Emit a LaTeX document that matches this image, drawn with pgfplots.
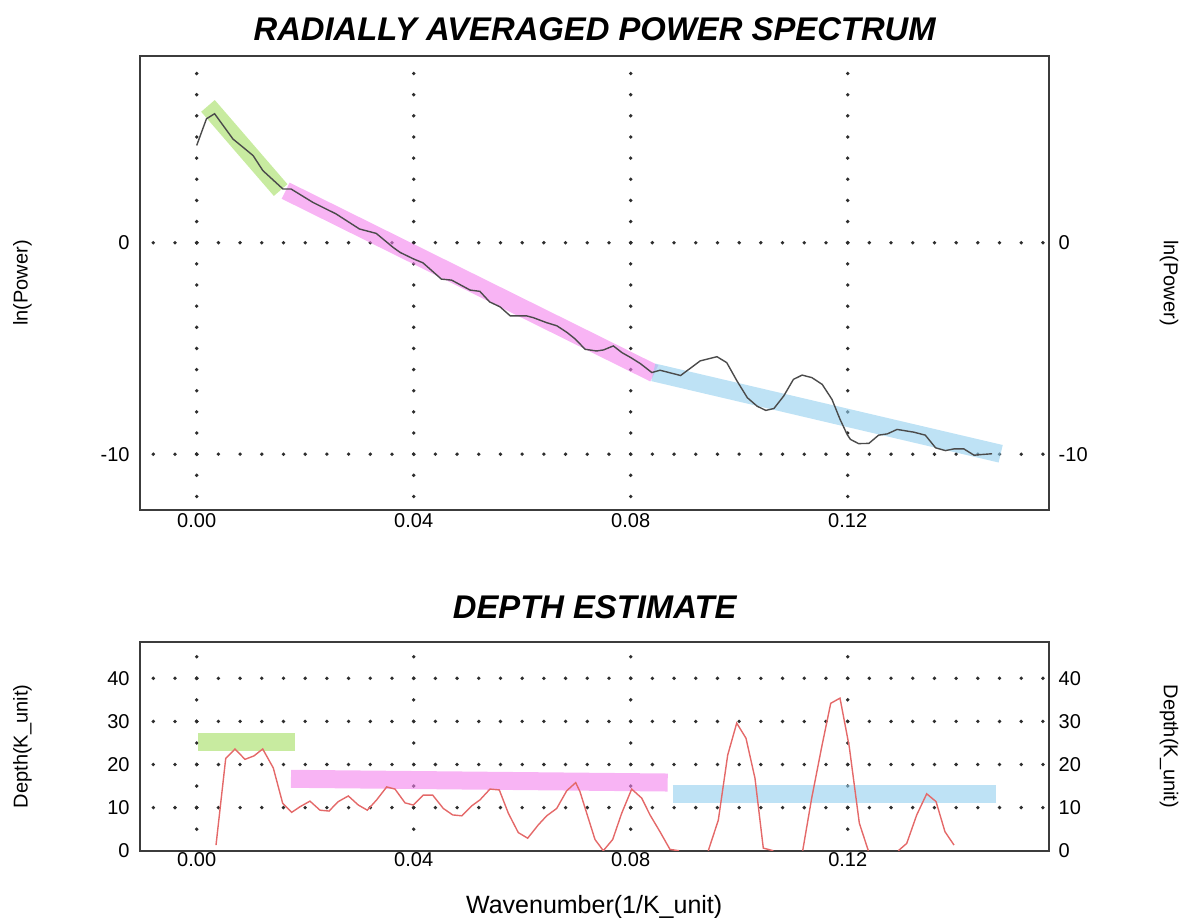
\documentclass[border=0pt]{standalone}
\usepackage{fontspec}
\setmainfont{Liberation Sans}
\usepackage{pgfplots}
\pgfplotsset{compat=1.18}
\definecolor{axc}{RGB}{60,60,60}
\definecolor{gridc}{RGB}{45,45,45}
\definecolor{curvec}{RGB}{75,75,75}
\definecolor{redc}{RGB}{228,105,105}
\definecolor{bandgreen}{RGB}{163,222,97}
\definecolor{bandpink}{RGB}{243,130,237}
\definecolor{bandblue}{RGB}{147,207,238}
\tikzset{
  dotx/.style={draw=gridc, line width=1.9pt, line cap=round, dash pattern=on 0pt off 10.849pt},
  dotyt/.style={draw=gridc, line width=1.9pt, line cap=round, dash pattern=on 0pt off 10.573pt},
  dotyb/.style={draw=gridc, line width=1.9pt, line cap=round, dash pattern=on 0pt off 10.775pt},
  band/.style={line width=9pt, line cap=butt, opacity=0.6, no markers},
}
\pgfplotsset{
  common/.style={
    anchor=south west, width=454.65pt, scale only axis,
    xmin=-0.01045, xmax=0.15716,
    axis line style={draw=axc, line width=1.1pt},
    major tick length=0pt,
    tick label style={font=\fontsize{10}{12}\selectfont},
    label style={font=\fontsize{10}{12}\selectfont},
  },
  leftax/.style={
    common,
    xtick={0,0.04,0.08,0.12}, xticklabels={0.00,0.04,0.08,0.12},
    yticklabel style={anchor=east, inner sep=0pt, xshift=-5pt},
    ylabel style={at={(axis description cs:-0.1293,0.5)}, anchor=center},
  },
  rightax/.style={
    common,
    hide x axis, axis y line*=right,
    yticklabel style={anchor=west, inner sep=0pt, xshift=4.5pt},
    ylabel style={at={(axis description cs:1.1316,0.5)}, anchor=center, rotate=180},
  },
}
\begin{document}
\begin{tikzpicture}
\useasboundingbox (0,0) rectangle (591pt,458.5pt);

% ---------------- top: power spectrum ----------------
\begin{axis}[leftax,
  at={(70pt,203.5pt)}, height=227pt,
  ymin=-12.64, ymax=8.83,
  ytick={-10,0}, yticklabels={-10,0},
  xticklabel style={anchor=north, inner sep=0pt, yshift=-1.5pt},
  ylabel={ln(Power)},
  title={RADIALLY AVERAGED POWER SPECTRUM},
  title style={at={(axis description cs:0.5,1.0595)}, anchor=center, yshift=-6pt,
    font=\fontsize{16.4}{19}\selectfont\bfseries\itshape},
]
\pgfplotsinvokeforeach{0,-10}{
  \draw[dotx] (axis cs:0,#1) -- (axis cs:0.1570,#1);
  \draw[dotx] (axis cs:0,#1) -- (axis cs:-0.0104,#1);
}
\pgfplotsinvokeforeach{0,0.04,0.08,0.12}{
  \draw[dotyt] (axis cs:#1,0) -- (axis cs:#1,8.5);
  \draw[dotyt] (axis cs:#1,0) -- (axis cs:#1,-12.5);
}
\addplot[band, color=bandgreen] coordinates {(0.00208,6.47) (0.01548,2.49)};
\addplot[band, color=bandpink] coordinates {(0.0164,2.46) (0.08435,-6.18)};
\addplot[band, color=bandblue] coordinates {(0.08417,-6.13) (0.1482,-9.98)};
\addplot[curvec, line width=0.7pt, no markers] coordinates {
(0.0,4.6) (0.0018,5.86) (0.0033,6.1) (0.0067,4.9) (0.0089,4.44) (0.0104,4.12)
(0.0122,3.41) (0.0159,2.54) (0.0174,2.54) (0.0214,1.91) (0.0257,1.36) (0.0300,0.65)
(0.0331,0.44) (0.0362,-0.22) (0.0375,-0.46) (0.040,-0.77) (0.0417,-0.95) (0.0451,-1.72)
(0.047,-1.77) (0.0504,-2.24) (0.0522,-2.3) (0.054,-2.8) (0.0559,-3.03) (0.0578,-3.46)
(0.0608,-3.46) (0.062,-3.54) (0.0645,-3.78) (0.0664,-3.93) (0.0683,-4.25) (0.0698,-4.56)
(0.0716,-5.04) (0.0737,-5.12) (0.075,-5.07) (0.0768,-4.88) (0.0784,-5.2) (0.080,-5.43)
(0.0818,-5.72) (0.0839,-6.14) (0.0854,-6.03) (0.0892,-6.28) (0.0928,-5.59) (0.0959,-5.39)
(0.0977,-5.67) (0.0996,-6.54) (0.1015,-7.33) (0.1033,-7.73) (0.1049,-7.93) (0.1064,-7.84)
(0.1082,-7.25) (0.110,-6.46) (0.1116,-6.26) (0.1134,-6.38) (0.1153,-6.7) (0.1171,-7.41)
(0.1186,-8.36) (0.1199,-9.07) (0.1205,-9.3) (0.122,-9.5) (0.1239,-9.49) (0.1257,-9.1)
(0.1273,-9.04) (0.1291,-8.83) (0.1322,-8.96) (0.1343,-9.1) (0.1362,-9.7) (0.138,-9.83)
(0.1396,-9.75) (0.1414,-9.75) (0.1433,-10.05) (0.1445,-10.02) (0.1466,-9.98)
};
\end{axis}
\begin{axis}[rightax,
  at={(70pt,203.5pt)}, height=227pt,
  ymin=-12.64, ymax=8.83,
  ytick={-10,0}, yticklabels={-10,0},
  ylabel={ln(Power)},
]
\end{axis}

% ---------------- bottom: depth estimate ----------------
\begin{axis}[leftax,
  at={(70pt,33.15pt)}, height=104.3pt,
  ymin=0, ymax=48.4,
  ytick={0,10,20,30,40},
  yticklabels={0,10,20,30,40},
  xticklabel style={anchor=north, inner sep=0pt, yshift=-0.5pt},
  ylabel={Depth(K\_unit)},
  title={DEPTH ESTIMATE},
  title style={at={(axis description cs:0.5,1.1683)}, anchor=center, yshift=-6pt,
    font=\fontsize{16.4}{19}\selectfont\bfseries\itshape},
  xlabel={Wavenumber(1/K\_unit)},
  xlabel style={at={(axis description cs:0.4995,-0.2987)}, anchor=base,
    font=\fontsize{12.5}{15}\selectfont},
  unbounded coords=jump,
]
\pgfplotsinvokeforeach{10,20,30,40}{
  \draw[dotx] (axis cs:0,#1) -- (axis cs:0.1570,#1);
  \draw[dotx] (axis cs:0,#1) -- (axis cs:-0.0104,#1);
}
\pgfplotsinvokeforeach{0,0.04,0.08,0.12}{
  \draw[dotyb] (axis cs:#1,10) -- (axis cs:#1,48);
  \draw[dotyb] (axis cs:#1,10) -- (axis cs:#1,3);
}
\addplot[band, color=bandgreen] coordinates {(0.0003,25.3) (0.01812,25.3)};
\addplot[band, color=bandpink] coordinates {(0.01738,16.68) (0.08682,15.82)};
\addplot[band, color=bandblue] coordinates {(0.08774,13.1) (0.14734,13.1)};
\addplot[redc, line width=0.7pt, no markers] coordinates {
(0.00356,1.3) (0.00535,21.4) (0.00706,23.6) (0.0089,21.2) (0.01056,22.0) (0.01217,23.6)
(0.01412,19.2) (0.01585,11.0) (0.01751,8.9) (0.01904,10.2) (0.02088,11.5) (0.02273,9.4)
(0.02439,9.2) (0.0261,11.4) (0.02795,12.7) (0.02979,10.6) (0.03145,9.4) (0.03318,11.8)
(0.03502,14.8) (0.03655,14.3) (0.0384,11.1) (0.03993,10.6) (0.04177,12.9) (0.0435,12.9)
(0.04546,9.8) (0.04719,8.3) (0.04885,8.1) (0.05069,10.4) (0.05222,11.8) (0.05406,14.3)
(0.05578,14.1) (0.05744,8.7) (0.05928,4.2) (0.06101,2.9) (0.06297,6.0) (0.06452,8.1)
(0.06636,9.8) (0.0682,13.9) (0.06986,15.8) (0.07065,13.7) (0.07189,8.7) (0.07342,2.6)
(0.07495,0) (0.07668,2.6) (0.07834,8.7) (0.08018,14.3) (0.08203,12.2) (0.08356,8.3)
(0.0854,4.4) (0.08724,0.3) (0.0889,0)
(0.0915,nan)
(0.0943,0) (0.09615,7.1) (0.09788,22.2) (0.09954,29.6) (0.10125,26.1) (0.10291,16.8)
(0.10444,0.6) (0.10629,0)
(0.109,nan)
(0.1117,0) (0.11336,12.2) (0.11521,24.1) (0.11687,34.2) (0.11858,35.4) (0.12029,24.1)
(0.12214,6.4) (0.1238,0)
(0.127,nan)
(0.12933,0) (0.13088,1.7) (0.13272,8.3) (0.13456,13.2) (0.13628,11.4) (0.13793,4.4)
(0.1396,1.3)
};
\end{axis}
\begin{axis}[rightax,
  at={(70pt,33.15pt)}, height=104.3pt,
  ymin=0, ymax=48.4,
  ytick={0,10,20,30,40},
  yticklabels={0,10,20,30,40},
  ylabel={Depth(K\_unit)},
]
\end{axis}
\end{tikzpicture}
\end{document}
